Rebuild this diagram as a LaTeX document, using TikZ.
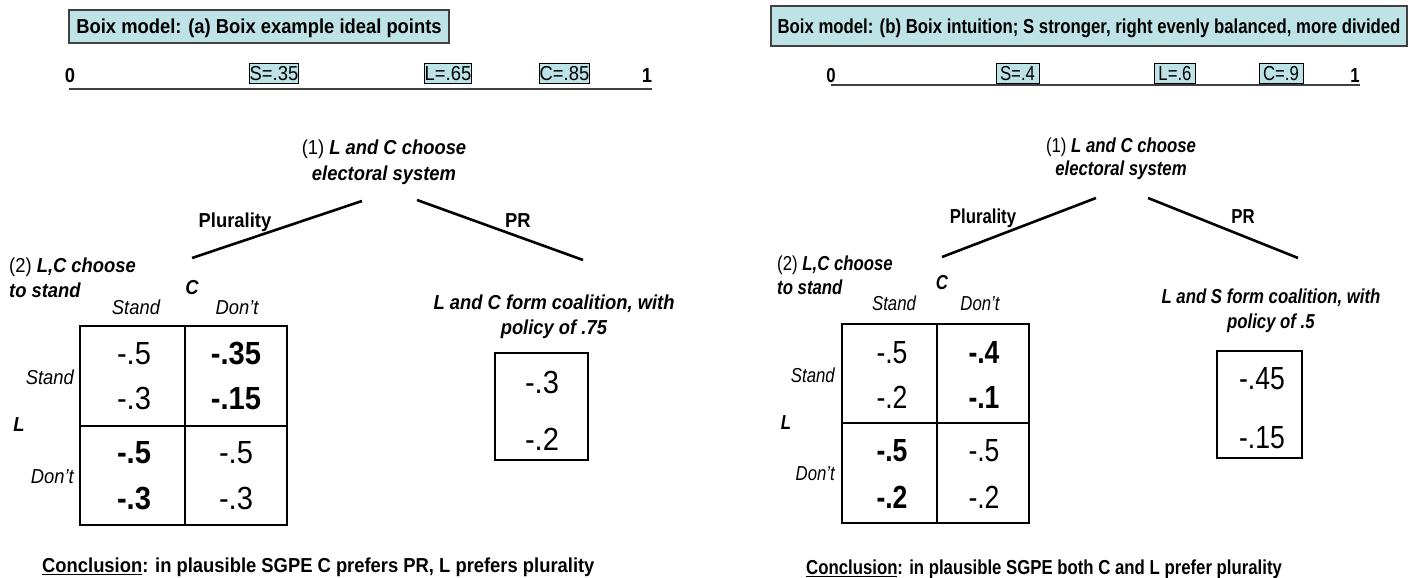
\documentclass[tikz,border=0pt]{standalone}
\usepackage{fontspec}
\setmainfont{Liberation Sans}[FakeStretch=0.91]
\newfontfamily\narrowfont[FakeStretch=0.83]{Liberation Sans}
\usepackage{xcolor}
\usepackage{tikz}
\usetikzlibrary{positioning}
\definecolor{boxcyan}{RGB}{190,227,230}
\definecolor{edgegray}{RGB}{64,64,64}
\newcommand{\txtfont}{\fontsize{20.2}{25}\selectfont}
\newcommand{\payfont}{\fontsize{32}{36}\selectfont}

\begin{document}
\begin{tikzpicture}[x=1pt,y=-1pt,
  txt/.style={inner sep=0pt,font=\txtfont,text height=14.5pt,text depth=0pt},
  para/.style={inner sep=0pt,font=\txtfont},
  pay/.style={inner sep=0pt,font=\payfont,text height=23pt,text depth=0pt},
  nar/.style={font=\narrowfont\txtfont},
  narpay/.style={font=\narrowfont\payfont},
  titlebox/.style={draw=edgegray,line width=1.5pt,fill=boxcyan,inner sep=0pt,font=\txtfont,text height=14.5pt,text depth=0pt},
  valbox/.style={draw=black,line width=0.8pt,fill=boxcyan,inner xsep=0.5pt,inner ysep=2.8pt,font=\txtfont,text height=14.5pt,text depth=0pt},
  branch/.style={line width=2.6pt},
  innerline/.style={line width=1.2pt},
  tableframe/.style={line width=2.6pt}]
\useasboundingbox (0,0) rectangle (1408,578);

% ---- (a) Boix example ideal points
\node[titlebox,minimum width=380pt,minimum height=33pt] (titleA) at (259,26.5) {\bfseries Boix model: (a) Boix example ideal points};
\node[txt] (zeroA) at (70,75) {\bfseries 0};
\node[txt] (oneA) at (647,75) {\bfseries 1};
\node[valbox] (sA) at (274,73) {S=.35};
\node[valbox] (lA) at (448,73) {L=.65};
\node[valbox] (cA) at (564.5,73) {C=.85};
\coordinate (axisA1) at (69,89);
\coordinate (axisA2) at (652,89);
\draw[edgegray,line width=1.5pt] (axisA1) -- (axisA2);

\node[para,align=center,anchor=north] (rootA) at (384,139.75) {(1) \textbf{\textit{L and C choose}}\\[1pt]\textbf{\textit{electoral system}}};
\coordinate (plTopA) at (362,201);
\coordinate (plEndA) at (192,258);
\coordinate (prTopA) at (417,200);
\coordinate (prEndA) at (583,260);
\draw[branch] (plTopA) -- (plEndA);
\draw[branch] (prTopA) -- (prEndA);
\node[txt] (pluA) at (235,220) {\bfseries Plurality};
\node[txt] (prlabA) at (518,220) {\bfseries PR};

\node[para,align=left,anchor=north west] (stageA) at (9,257.75) {(2) \textbf{\textit{L,C choose}}\\\textbf{\textit{to stand}}};
\node[txt] (playerCA) at (192,287) {\bfseries\itshape C};
\node[txt] (colStA) at (136,307) {\itshape Stand};
\node[txt] (colDnA) at (237,307) {\itshape Don’t};
\node[txt,anchor=east] (rowStA) at (74,377) {\itshape Stand};
\node[txt,anchor=east] (rowDnA) at (74,476) {\itshape Don’t};
\node[txt] (playerLA) at (19,424) {\bfseries\itshape L};

\draw[innerline] (185,326) -- (185,525);
\draw[innerline] (80,426) -- (287,426);
\draw[tableframe] (80,326) rectangle (287,525);
\node[pay] (a11) at (134,353) {-.5};
\node[pay] (a12) at (134,398) {-.3};
\node[pay] (a21) at (236,353) {\bfseries -.35};
\node[pay] (a22) at (236,398) {\bfseries -.15};
\node[pay] (a31) at (134,452) {\bfseries -.5};
\node[pay] (a32) at (134,498) {\bfseries -.3};
\node[pay] (a41) at (236,452) {-.5};
\node[pay] (a42) at (236,498) {-.3};

\node[para,align=center,anchor=north] (coalA) at (554,294.75) {\textbf{\textit{L and C form coalition, with}}\\\textbf{\textit{policy of .75}}};
\node[draw,innerline,inner sep=0pt,minimum width=93pt,minimum height=107pt] (prBoxA) at (541.5,406.5) {};
\node[pay] (prA1) at (542,382) {-.3};
\node[pay] (prA2) at (542,439) {-.2};

\node[txt,anchor=west] (concA) at (42,565) {\bfseries\underline{Conclusion}: in plausible SGPE C prefers PR, L prefers plurality};

% ---- (b) Boix intuition
\node[titlebox,nar,minimum width=636pt,minimum height=40pt] (titleB) at (1089,26) {\bfseries Boix model: (b) Boix intuition; S stronger, right evenly balanced, more divided};
\node[txt,nar] (zeroB) at (831,75) {\bfseries 0};
\node[txt,nar] (oneB) at (1355,75) {\bfseries 1};
\node[valbox,nar,inner xsep=4pt] (sB) at (1017.5,73) {S=.4};
\node[valbox,nar,inner xsep=4pt] (lB) at (1175,73) {L=.6};
\node[valbox,nar,inner xsep=4pt] (cB) at (1281,73) {C=.9};
\coordinate (axisB1) at (831,85);
\coordinate (axisB2) at (1360,85);
\draw[edgegray,line width=1.5pt] (axisB1) -- (axisB2);

\node[para,nar,align=center,anchor=north] (rootB) at (1121,137.75) {(1) \textbf{\textit{L and C choose}}\\[-2pt]\textbf{\textit{electoral system}}};
\coordinate (plTopB) at (1096,198);
\coordinate (plEndB) at (942,257);
\coordinate (prTopB) at (1148,198);
\coordinate (prEndB) at (1298,258);
\draw[branch] (plTopB) -- (plEndB);
\draw[branch] (prTopB) -- (prEndB);
\node[txt,nar] (pluB) at (983,216) {\bfseries Plurality};
\node[txt,nar] (prlabB) at (1243,216) {\bfseries PR};

\node[para,nar,align=left,anchor=north west] (stageB) at (777,255.75) {(2) \textbf{\textit{L,C choose}}\\[-1pt]\textbf{\textit{to stand}}};
\node[txt,nar] (playerCB) at (942,282) {\bfseries\itshape C};
\node[txt,nar] (colStB) at (894,303) {\itshape Stand};
\node[txt,nar] (colDnB) at (980,303) {\itshape Don’t};
\node[txt,nar,anchor=east] (rowStB) at (835,375) {\itshape Stand};
\node[txt,nar,anchor=east] (rowDnB) at (835,473) {\itshape Don’t};
\node[txt,nar] (playerLB) at (786,422) {\bfseries\itshape L};

\draw[innerline] (937,324) -- (937,523);
\draw[innerline] (842,423) -- (1029,423);
\draw[tableframe] (842,324) rectangle (1029,523);
\node[pay,narpay] (b11) at (892,352) {-.5};
\node[pay,narpay] (b12) at (892,397) {-.2};
\node[pay,narpay] (b21) at (984,352) {\bfseries -.4};
\node[pay,narpay] (b22) at (984,397) {\bfseries -.1};
\node[pay,narpay] (b31) at (892,450) {\bfseries -.5};
\node[pay,narpay] (b32) at (892,497) {\bfseries -.2};
\node[pay,narpay] (b41) at (984,450) {-.5};
\node[pay,narpay] (b42) at (984,497) {-.2};

\node[para,nar,align=center,anchor=north] (coalB) at (1271,288.75) {\textbf{\textit{L and S form coalition, with}}\\\textbf{\textit{policy of .5}}};
\node[draw,innerline,inner sep=0pt,minimum width=85pt,minimum height=107pt] (prBoxB) at (1259.5,404.5) {};
\node[pay,narpay] (prB1) at (1262,378) {-.45};
\node[pay,narpay] (prB2) at (1262,437) {-.15};

\node[txt,nar,anchor=west] (concB) at (806,567) {\bfseries\underline{Conclusion}: in plausible SGPE both C and L prefer plurality};
\end{tikzpicture}
\end{document}
